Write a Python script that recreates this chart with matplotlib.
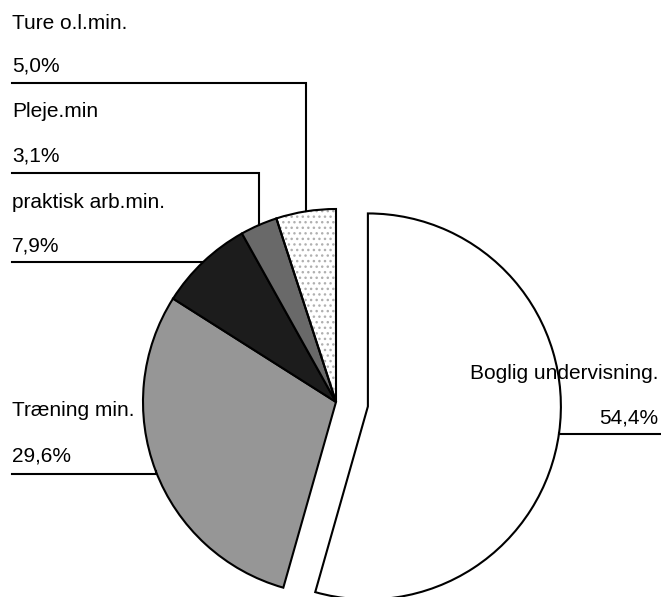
import numpy as np
import matplotlib
matplotlib.use("Agg")
import matplotlib.pyplot as plt
from matplotlib.patches import Wedge

# ---- data ----
labels = ["Boglig undervisning.", "Træning min.", "praktisk arb.min.", "Pleje.min", "Ture o.l.min."]
values = [54.4, 29.6, 7.9, 3.1, 5.0]
pct_labels = ["54,4%", "29,6%", "7,9%", "3,1%", "5,0%"]

# ---- style ----
colors = ["white", "#969696", "#1c1c1c", "#696969", "white"]
explode = [32.2, 0, 0, 0, 0]  # offset in pixel-like data units

W, H = 661, 597
fig = plt.figure(figsize=(W / 100, H / 100), dpi=100)
ax = fig.add_axes([0, 0, 1, 1])
plt.rcParams['font.family'] = ['Liberation Sans', 'DejaVu Sans']

center = (336, H - 402)
radius = 193
wedges, _ = ax.pie(values, colors=colors, explode=explode, startangle=90,
                   counterclock=False, center=center, radius=radius,
                   wedgeprops=dict(edgecolor="black", linewidth=1.5))
ax.set_xlim(0, W)
ax.set_ylim(0, H)
ax.set_aspect("equal")
ax.axis("off")

# dotted fill for "Ture"
tw = wedges[4]
tw.set_facecolor("none")
dots = Wedge(tw.center, tw.r, tw.theta1, tw.theta2, facecolor="white",
             edgecolor="#b0b0b0", hatch="...", linewidth=0, zorder=0.5)
ax.add_patch(dots)

fs = 15
# label layout: (text x, name baseline y px, pct baseline y px, line y px, side)
layout = {
    0: (658, 379, 423, 434, "right"),
    1: (12, 416, 461, 474, "left"),
    2: (12, 208, 251, 262, "left"),
    3: (12, 117, 161, 173, "left"),
    4: (12, 29, 72, 83, "left"),
}
for i, w in enumerate(wedges):
    tx, ny, py, ly, side = layout[i]
    ang = np.deg2rad((w.theta1 + w.theta2) / 2)
    ex = w.center[0] + w.r * np.cos(ang)
    ey = w.center[1] + w.r * np.sin(ang)
    ha = "left" if side == "left" else "right"
    ax.text(tx, H - ny, labels[i], fontsize=fs, ha=ha, va="baseline")
    ax.text(tx, H - py, pct_labels[i], fontsize=fs, ha=ha, va="baseline")
    x0 = 12 if side == "left" else W
    ax.plot([x0, ex, ex], [H - ly, H - ly, ey], color="black", lw=1.5,
            solid_joinstyle="miter", zorder=3)

fig.savefig("out.png", dpi=100, facecolor="white")
